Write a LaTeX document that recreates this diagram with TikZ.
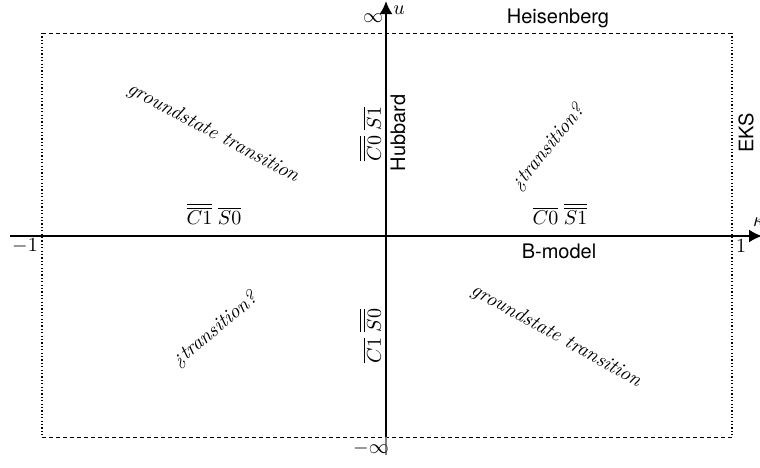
\documentclass[tikz,border=0pt]{standalone}
\usepackage{fontspec}
\newfontfamily\hv{TeX Gyre Heros}
\usetikzlibrary{arrows.meta}
\begin{document}
\begin{tikzpicture}[x=0.5pt,y=-0.5pt,
  axis/.style={line width=1pt,-{Latex[length=6.5pt,width=6.5pt]}},
  frameh/.style={line width=0.5pt,dash pattern=on 2pt off 1.5pt},
  framev/.style={line width=0.6pt,dash pattern=on 0.6pt off 1.1pt},
  lab/.style={inner sep=0pt},
  sflab/.style={inner sep=0pt,font=\hv},
  itlab/.style={inner sep=0pt,font=\itshape}]
\useasboundingbox (0,0) rectangle (760,467);
% frame
\coordinate (TL) at (42,33);
\coordinate (TR) at (732,33);
\coordinate (BL) at (42,437);
\coordinate (BR) at (732,437);
\draw[frameh] (TL) -- (TR);
\draw[frameh] (BL) -- (BR);
\draw[framev] (TL) -- (BL);
\draw[framev] (TR) -- (BR);
% axes
\coordinate (xs) at (10,236);
\coordinate (xe) at (762,236);
\coordinate (yb) at (386,455);
\coordinate (ys) at (386,437);
\coordinate (ye) at (386,1);
\draw[axis] (xs) -- (xe);
\draw[gray,line width=0.6pt] (yb) -- (ys);
\draw[axis] (ys) -- (ye);
% axis labels
\node[lab] (inf) at (373,18) {$\infty$};
\node[lab] (minf) at (371,448) {$-\infty$};
\node[lab] (u) at (399,10) {$u$};
\node[lab] (kappa) at (759,222) {$\kappa$};
\node[lab] (m1) at (25,246) {$-1$};
\node[lab] (p1) at (741,246) {$1$};
% sans labels
\node[sflab] (heis) at (558,18) {Heisenberg};
\node[sflab] (bmod) at (559,251) {B-model};
\node[sflab,rotate=90] (hub) at (398,133) {Hubbard};
\node[sflab,rotate=90] (eks) at (746,133) {EKS};
% math labels
\node[lab] (right) at (560,214) {$\overline{C0}\;\overline{\overline{S1}}$};
\node[lab] (left) at (214,214) {$\overline{\overline{C1}}\;\overline{S0}$};
\node[lab,rotate=90] (top) at (370,134) {$\overline{\overline{C0}}\;\overline{S1}$};
\node[lab,rotate=90] (bot) at (370,336) {$\overline{C1}\;\overline{\overline{S0}}$};
% italic texts
\node[itlab,rotate=-28] (gs1) at (213,133) {groundstate transition};
\node[itlab,rotate=-29] (gs2) at (556,336) {groundstate transition};
\node[itlab,rotate=51] (tr1) at (548,148) {¿transition?};
\node[itlab,rotate=40] (tr2) at (215,330) {¿transition?};
\end{tikzpicture}
\end{document}
